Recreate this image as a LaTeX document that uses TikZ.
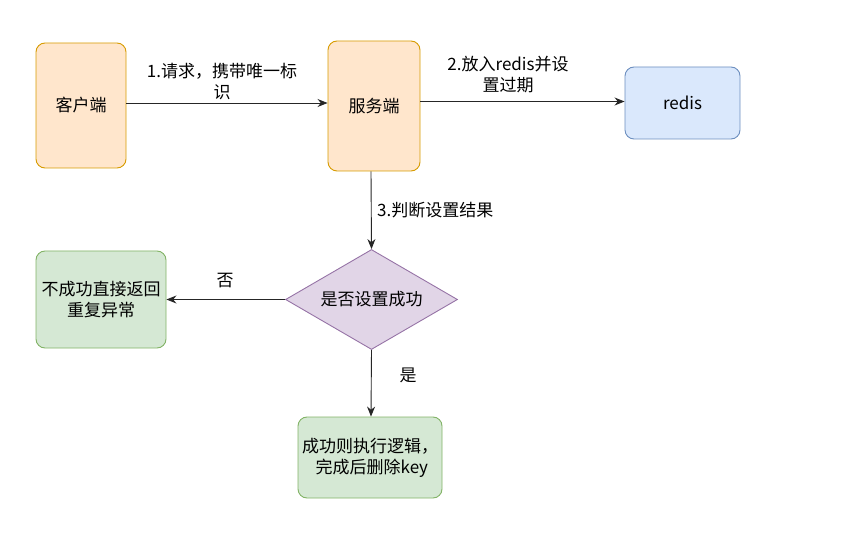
\documentclass[tikz,border=0pt]{standalone}
\usepackage{fontspec}
\setmainfont{Noto Sans CJK SC}
\usetikzlibrary{shapes.geometric,arrows.meta}
\definecolor{orfill}{HTML}{FFE6CC}\definecolor{ordraw}{HTML}{D79B00}
\definecolor{blfill}{HTML}{DAE8FC}\definecolor{bldraw}{HTML}{6C8EBF}
\definecolor{pufill}{HTML}{E1D5E7}\definecolor{pudraw}{HTML}{9673A6}
\definecolor{grfill}{HTML}{D5E8D4}\definecolor{grdraw}{HTML}{82B366}
\begin{document}
\begin{tikzpicture}[x=1pt,y=-1pt,
  every node/.style={font=\fontsize{17}{21}\selectfont, align=center, inner sep=0pt},
  box/.style={draw, rounded corners=9pt, line width=0.9pt},
  orbox/.style={box, fill=orfill, draw=ordraw},
  blbox/.style={box, fill=blfill, draw=bldraw},
  grbox/.style={box, fill=grfill, draw=grdraw},
  arr/.style={-{Stealth[length=10pt,width=8pt]}, line width=0.9pt, draw=black!85},
  lbl/.style={font=\fontsize{17}{21}\selectfont}]
\useasboundingbox (0,0) rectangle (846,537);
\node[orbox, minimum width=90pt, minimum height=125pt] (client) at (81,105.5) {客户端};
\node[orbox, minimum width=92pt, minimum height=130pt] (server) at (374,106) {服务端};
\node[blbox, minimum width=115pt, minimum height=72pt] (redis) at (682.5,103) {redis};
\node[draw=pudraw, fill=pufill, line width=0.9pt, diamond, aspect=1.75, minimum width=172pt, minimum height=100pt] (dec) at (371.5,299.5) {是否设置成功};
\node[grbox, minimum width=130pt, minimum height=97pt] (fail) at (101,299.5) {不成功直接返回\\重复异常};
\node[grbox, minimum width=144pt, minimum height=81pt] (ok) at (370,457.5) {成功则执行逻辑，\\\ 完成后删除key};
\draw[arr] (client.east |- 0,103) -- (server.west |- 0,103);
\draw[arr] (server.east |- 0,101.5) -- (redis.west |- 0,101.5);
\draw[arr] (server.south -| 371,0) -- (dec.north);
\draw[arr] (dec.west) -- (fail.east |- dec.west);
\draw[arr] (dec.south) -- (ok.north -| 371,0);
\node[lbl] (l1) at (222,82) {1.请求，携带唯一标\\识};
\node[lbl] (l2) at (508,75) {2.放入redis并设\\置过期};
\node[lbl, anchor=west] (l3) at (377,210) {3.判断设置结果};
\node[lbl] (l4) at (225,281) {否};
\node[lbl] (l5) at (408,375) {是};
\end{tikzpicture}
\end{document}
